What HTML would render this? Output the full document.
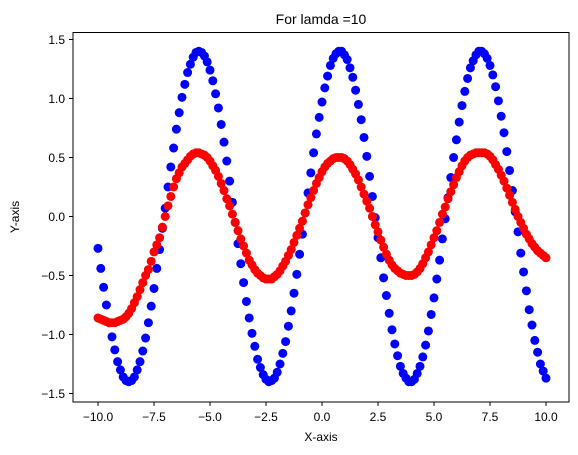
<!DOCTYPE html>
<html><head><meta charset="utf-8"><style>
html,body{margin:0;padding:0;background:#fff;}
svg{display:block;font-family:"Liberation Sans","DejaVu Sans",sans-serif;}
</style></head><body>
<svg id="chart" width="578" height="455">
<text x="321" y="24" font-size="14" text-anchor="middle">For lamda =10</text>
<g id="plot"></g>
<rect x="73" y="32.5" width="496" height="369.5" fill="none" stroke="#000" stroke-width="1"/>
<g id="xt"></g><g id="yt"></g>
<text x="321" y="441" font-size="12" text-anchor="middle">X-axis</text>
<text x="19" y="217" font-size="12" text-anchor="middle" transform="rotate(-90 19 217)">Y-axis</text>
</svg>
<script>
const xTicks=[-10,-7.5,-5,-2.5,0,2.5,5,7.5,10];
const xTickLabels=["−10.0","−7.5","−5.0","−2.5","0.0","2.5","5.0","7.5","10.0"];
const yTicks=[-1.5,-1,-0.5,0,0.5,1,1.5];
const yTickLabels=["−1.5","−1.0","−0.5","0.0","0.5","1.0","1.5"];
const xStart=-10, xStartMid=-9.875, xStep=0.25;
const blueY=[-0.27,-0.60,-0.90,-1.13,-1.30,-1.39,-1.39,-1.30,-1.14,-0.90,-0.61,-0.28,
0.07,0.42,0.74,1.01,1.22,1.35,1.40,1.36,1.24,1.04,0.78,0.47,0.12,-0.23,-0.56,-0.86,-1.10,-1.28,-1.38,-1.39,-1.32,-1.16,-0.93,-0.65,-0.32,
0.03,0.37,0.70,0.97,1.19,1.34,1.40,1.37,1.26,1.07,0.82,0.51,0.17,-0.18,-0.52,-0.82,-1.08,-1.27,-1.37,-1.40,-1.33,-1.19,-0.97,-0.69,-0.37,
-0.02,0.33,0.65,0.94,1.17,1.32,1.40,1.38,1.28,1.10,0.85,0.55,0.22,-0.13,-0.47,-0.79,-1.05,-1.25,-1.37];
const blueYMid=[-0.44,-0.75,-1.02,-1.23,-1.36,-1.40,-1.36,-1.23,-1.03,-0.76,-0.44,-0.10,
0.25,0.58,0.88,1.12,1.29,1.39,1.39,1.31,1.15,0.92,0.63,0.30,-0.05,-0.40,-0.72,-0.99,-1.21,-1.34,-1.40,-1.37,-1.25,-1.06,-0.80,-0.49,-0.15,
0.20,0.54,0.84,1.09,1.28,1.38,1.40,1.33,1.18,0.95,0.67,0.34,-0.01,-0.35,-0.67,-0.96,-1.18,-1.33,-1.40,-1.38,-1.27,-1.09,-0.83,-0.53,-0.19,
0.16,0.50,0.80,1.06,1.26,1.37,1.40,1.34,1.20,0.98,0.71,0.39,0.04,-0.31,-0.63,-0.92,-1.15,-1.31];
const redY=[-0.86,-0.88,-0.9,-0.9,-0.88,-0.85,-0.78,-0.68,-0.56,-0.45,-0.3,-0.18,0.0,0.17,0.32,0.42,0.48,0.53,0.54,0.52,0.47,0.39,0.28,0.15,0.02,-0.12,-0.25,-0.37,-0.45,-0.5,-0.53,-0.53,-0.49,-0.42,-0.33,-0.22,-0.1,0.03,0.16,0.28,0.38,0.45,0.49,0.5,0.49,0.44,0.36,0.25,0.13,0.0,-0.13,-0.26,-0.37,-0.44,-0.48,-0.5,-0.5,-0.47,-0.4,-0.3,-0.18,-0.05,0.08,0.21,0.33,0.43,0.5,0.53,0.54,0.54,0.51,0.44,0.35,0.24,0.12,0.0,-0.1,-0.19,-0.26,-0.31,-0.35];
const redYMid=[-0.87,-0.89,-0.9,-0.89,-0.87,-0.82,-0.73,-0.62,-0.5,-0.38,-0.24,-0.09,0.09,0.25,0.37,0.45,0.51,0.54,0.53,0.5,0.43,0.34,0.22,0.09,-0.05,-0.19,-0.31,-0.41,-0.48,-0.52,-0.53,-0.51,-0.46,-0.38,-0.28,-0.16,-0.04,0.1,0.22,0.33,0.42,0.47,0.5,0.5,0.47,0.4,0.31,0.19,0.07,-0.07,-0.2,-0.32,-0.41,-0.46,-0.49,-0.5,-0.49,-0.44,-0.35,-0.24,-0.12,0.02,0.15,0.27,0.38,0.47,0.52,0.54,0.54,0.53,0.48,0.4,0.3,0.18,0.06,-0.05,-0.15,-0.23,-0.29,-0.33];
const NS="http://www.w3.org/2000/svg";
function sx(v){return 322+v*22.4;}
function sy(v){return 216.5-v*118;}
const plot=document.getElementById('plot');
function series(arr,x0,color,name){
  arr.forEach((v,i)=>{
    const c=document.createElementNS(NS,'circle');
    c.setAttribute('cx',sx(x0+i*xStep));
    c.setAttribute('cy',sy(v));
    c.setAttribute('r',4.5);
    c.setAttribute('fill',color);
    
    
    plot.appendChild(c);
  });
}
series(blueY,xStart,'#0000ff','blue-point');
series(blueYMid,xStartMid,'#0000ff','blue-point');
series(redY,xStart,'#ff0000','red-point');
series(redYMid,xStartMid,'#ff0000','red-point');
const xt=document.getElementById('xt');
xTicks.forEach((t,i)=>{
  const l=document.createElementNS(NS,'line');
  l.setAttribute('x1',sx(t));l.setAttribute('x2',sx(t));l.setAttribute('y1',402);l.setAttribute('y2',406);l.setAttribute('stroke','#000');
  
  
  xt.appendChild(l);
  const tx=document.createElementNS(NS,'text');
  tx.setAttribute('x',sx(t));tx.setAttribute('y',421);tx.setAttribute('font-size','12');tx.setAttribute('text-anchor','middle');
  tx.textContent=xTickLabels[i];
  
  
  xt.appendChild(tx);
});
const yt=document.getElementById('yt');
yTicks.forEach((t,i)=>{
  const l=document.createElementNS(NS,'line');
  l.setAttribute('x1',69);l.setAttribute('x2',73);l.setAttribute('y1',sy(t));l.setAttribute('y2',sy(t));l.setAttribute('stroke','#000');
  
  
  yt.appendChild(l);
  const tx=document.createElementNS(NS,'text');
  tx.setAttribute('x',65);tx.setAttribute('y',sy(t)+4.5);tx.setAttribute('font-size','12');tx.setAttribute('text-anchor','end');
  tx.textContent=yTickLabels[i];
  
  
  yt.appendChild(tx);
});
</script>
</body></html>
